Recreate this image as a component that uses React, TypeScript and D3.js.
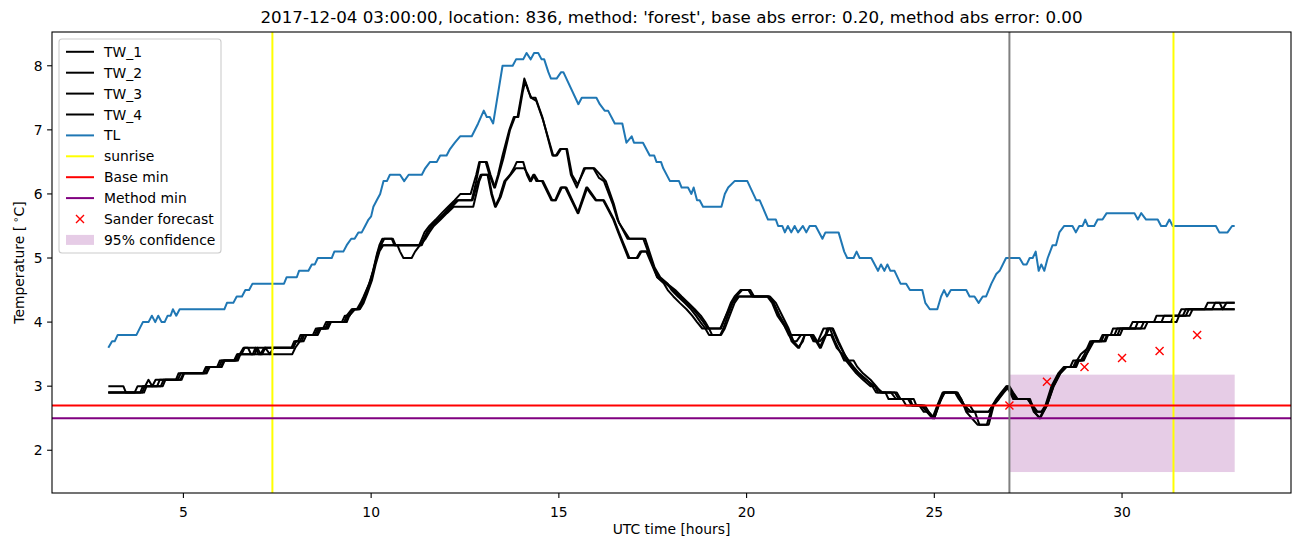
import React from 'react';
import * as d3 from 'd3';

// vertices [hour, temperature]
const TL: [number, number][] = [
  [3.0, 3.6], [3.1, 3.7], [3.17, 3.7], [3.25, 3.8], [3.75, 3.8], [3.92, 4.0], [4.07, 4.0], [4.16, 4.1], [4.25, 4.0],
  [4.33, 4.1], [4.42, 4.0], [4.5, 4.0], [4.58, 4.1], [4.66, 4.1], [4.72, 4.2], [4.81, 4.1], [4.9, 4.2],
  [6.09, 4.2], [6.16, 4.3], [6.33, 4.3], [6.42, 4.4], [6.56, 4.4], [6.65, 4.5], [6.75, 4.5], [6.84, 4.6], [7.68, 4.6],
  [7.75, 4.7], [8.02, 4.7], [8.08, 4.8], [8.33, 4.8], [8.42, 4.9], [8.5, 4.9], [8.58, 5.0], [8.95, 5.0], [9.02, 5.1],
  [9.26, 5.1], [9.35, 5.2], [9.47, 5.3], [9.56, 5.3], [9.66, 5.4], [9.75, 5.4], [9.84, 5.5], [9.93, 5.6], [10.0, 5.65],
  [10.06, 5.8], [10.15, 5.9], [10.24, 6.0], [10.33, 6.2], [10.42, 6.2], [10.5, 6.3], [10.77, 6.3], [10.88, 6.2],
  [11.0, 6.3], [11.35, 6.3], [11.44, 6.4], [11.57, 6.5], [11.75, 6.5], [11.84, 6.6], [12.01, 6.6], [12.1, 6.7],
  [12.23, 6.8], [12.37, 6.9], [12.68, 6.9], [12.85, 7.1], [13.0, 7.3], [13.08, 7.2], [13.16, 7.2], [13.25, 7.1],
  [13.5, 8.0], [13.77, 8.0], [13.86, 8.1], [14.05, 8.1], [14.14, 8.2], [14.25, 8.1], [14.34, 8.2], [14.45, 8.2],
  [14.54, 8.1], [14.61, 8.1], [14.72, 7.9], [14.79, 7.8], [14.94, 7.8], [15.06, 7.9], [15.12, 7.9], [15.52, 7.4],
  [15.61, 7.5], [16.0, 7.5], [16.09, 7.4], [16.22, 7.3], [16.31, 7.3], [16.49, 7.1], [16.69, 7.1], [16.8, 6.8],
  [16.94, 6.9], [17.0, 6.8], [17.24, 6.8], [17.42, 6.6], [17.54, 6.6], [17.6, 6.5], [17.72, 6.5], [17.78, 6.4],
  [17.96, 6.2], [18.2, 6.2], [18.27, 6.1], [18.44, 6.1], [18.53, 6.0], [18.59, 6.1], [18.68, 5.9], [18.75, 5.9],
  [18.84, 5.8], [19.33, 5.8], [19.42, 6.0], [19.51, 6.1], [19.68, 6.2], [20.02, 6.2], [20.26, 5.9], [20.35, 5.9],
  [20.57, 5.6], [20.78, 5.6], [20.84, 5.5], [20.95, 5.5], [21.02, 5.4], [21.1, 5.5], [21.19, 5.4], [21.28, 5.5],
  [21.37, 5.4], [21.5, 5.5], [21.59, 5.4], [21.68, 5.5], [21.84, 5.5], [22.02, 5.3], [22.1, 5.4], [22.45, 5.4],
  [22.6, 5.1], [22.68, 5.0], [22.85, 5.0], [22.93, 5.1], [23.01, 5.0], [23.32, 5.0], [23.5, 4.8], [23.58, 4.9],
  [23.67, 4.8], [23.75, 4.9], [23.83, 4.8], [23.94, 4.8], [24.1, 4.6], [24.25, 4.6], [24.35, 4.5], [24.68, 4.5],
  [24.76, 4.3], [24.88, 4.2], [25.08, 4.2], [25.18, 4.4], [25.26, 4.5], [25.34, 4.4], [25.44, 4.5], [25.85, 4.5],
  [25.94, 4.4], [26.07, 4.4], [26.18, 4.3], [26.29, 4.4], [26.38, 4.4], [26.52, 4.6], [26.65, 4.75], [26.74, 4.8],
  [26.91, 5.0], [27.27, 5.0], [27.37, 4.9], [27.46, 4.9], [27.54, 5.0], [27.62, 5.0], [27.7, 5.1], [27.78, 4.8],
  [27.85, 4.9], [27.93, 4.8], [28.02, 5.0], [28.15, 5.2], [28.24, 5.2], [28.33, 5.4], [28.46, 5.5], [28.68, 5.5],
  [28.77, 5.4], [28.86, 5.5], [28.95, 5.5], [29.02, 5.6], [29.09, 5.5], [29.26, 5.5], [29.35, 5.6], [29.48, 5.6],
  [29.59, 5.7], [30.33, 5.7], [30.42, 5.6], [30.51, 5.7], [30.64, 5.6], [30.95, 5.6], [31.04, 5.5], [31.17, 5.5],
  [31.26, 5.6], [31.35, 5.5], [32.5, 5.5], [32.59, 5.4], [32.81, 5.4], [32.93, 5.5], [33.0, 5.5],
];

const TW_1: [number, number][] = [
  [3.0, 3.0], [3.4, 3.0], [3.47, 2.9], [3.7, 2.9], [3.78, 3.0], [3.98, 3.0], [4.07, 3.1], [4.17, 3.0], [4.26, 3.1],
  [4.8, 3.1], [4.87, 3.2], [5.52, 3.2], [5.6, 3.3], [5.9, 3.3], [5.97, 3.4], [6.38, 3.4], [6.45, 3.5], [6.55, 3.5],
  [6.63, 3.6], [7.88, 3.6], [7.95, 3.7], [8.05, 3.7], [8.12, 3.8], [8.45, 3.8], [8.53, 3.9], [8.72, 3.9], [8.8, 4.0],
  [9.22, 4.0], [9.3, 4.1], [9.43, 4.1], [9.5, 4.2], [9.62, 4.2], [9.72, 4.3], [9.8, 4.4], [9.95, 4.6], [10.05, 4.8],
  [10.15, 5.05], [10.22, 5.2], [10.3, 5.3], [10.55, 5.3], [10.62, 5.2], [11.28, 5.2], [11.35, 5.3], [11.42, 5.4],
  [11.55, 5.5], [11.72, 5.6], [11.88, 5.7], [12.05, 5.8], [12.22, 5.9], [12.38, 6.0], [12.65, 6.0], [12.8, 6.3],
  [12.88, 6.5], [13.05, 6.5], [13.15, 6.3], [13.28, 6.1], [13.38, 6.3], [13.5, 6.6], [13.68, 7.0], [13.8, 7.2],
  [13.9, 7.2], [14.02, 7.6], [14.08, 7.8], [14.17, 7.65], [14.25, 7.5], [14.38, 7.5], [14.56, 7.2], [14.83, 6.6],
  [14.92, 6.6], [15.03, 6.7], [15.2, 6.7], [15.32, 6.3], [15.48, 6.1], [15.67, 6.4], [15.92, 6.4], [16.07, 6.25],
  [16.2, 6.2], [16.43, 5.85], [16.56, 5.6], [16.83, 5.3], [17.25, 5.3], [17.5, 4.9], [17.62, 4.7], [17.8, 4.6],
  [17.9, 4.5], [18.05, 4.4], [18.22, 4.3], [18.4, 4.2], [18.55, 4.1], [18.68, 4.0], [18.82, 3.9], [19.3, 3.9],
  [19.45, 4.1], [19.58, 4.3], [19.68, 4.4], [19.84, 4.5], [20.05, 4.5], [20.15, 4.4],
  [20.55, 4.4], [20.68, 4.3], [20.82, 4.1], [21.0, 3.95], [21.12, 3.8], [21.25, 3.7], [21.33, 3.7], [21.45, 3.8],
  [21.7, 3.8], [21.78, 3.7], [21.9, 3.7], [22.05, 3.9], [22.22, 3.9], [22.35, 3.7], [22.52, 3.5], [22.6, 3.4],
  [22.72, 3.4], [22.85, 3.3], [23.0, 3.2], [23.2, 3.1], [23.35, 3.0], [23.45, 2.9], [23.95, 2.9], [24.05, 2.8],
  [24.35, 2.8], [24.42, 2.7], [24.7, 2.7], [24.8, 2.6], [24.95, 2.5], [25.08, 2.7], [25.22, 2.9], [25.58, 2.9],
  [25.7, 2.8], [25.8, 2.7], [25.95, 2.7], [26.05, 2.6], [26.45, 2.6], [26.55, 2.7], [26.65, 2.8], [26.78, 2.9],
  [26.92, 3.0], [27.02, 2.9], [27.1, 2.8], [27.5, 2.8], [27.62, 2.7], [27.75, 2.6], [27.85, 2.6], [27.96, 2.7],
  [28.12, 3.0], [28.3, 3.2], [28.45, 3.3], [28.62, 3.3], [28.7, 3.4], [28.8, 3.4], [28.9, 3.5], [29.1, 3.6],
  [29.2, 3.7], [29.4, 3.7], [29.48, 3.8], [29.7, 3.8], [29.76, 3.9], [30.2, 3.9], [30.28, 4.0], [30.85, 4.0],
  [30.92, 4.1], [31.5, 4.1], [31.58, 4.2], [32.2, 4.2], [32.28, 4.3], [33.0, 4.3],
];

const TW_2: [number, number][] = [
  [3.0, 2.9], [3.85, 2.9], [3.92, 3.0], [4.3, 3.0], [4.37, 3.1], [4.92, 3.1], [5.0, 3.2], [5.62, 3.2], [5.7, 3.3],
  [6.0, 3.3], [6.07, 3.4], [6.42, 3.4], [6.5, 3.5], [6.6, 3.6], [6.72, 3.6], [6.8, 3.5], [6.9, 3.5], [6.97, 3.6],
  [7.05, 3.5], [7.15, 3.6], [7.92, 3.6], [8.0, 3.7], [8.1, 3.7], [8.18, 3.8], [8.5, 3.8], [8.58, 3.9], [8.78, 3.9],
  [8.85, 4.0], [9.28, 4.0], [9.35, 4.1], [9.48, 4.2], [9.65, 4.2], [9.75, 4.3], [9.85, 4.45], [9.98, 4.65],
  [10.08, 4.85], [10.18, 5.1], [10.26, 5.2], [10.35, 5.3], [10.58, 5.3], [10.65, 5.2], [11.32, 5.2], [11.4, 5.3],
  [11.48, 5.4], [11.6, 5.5], [11.78, 5.6], [11.95, 5.7], [12.1, 5.8], [12.28, 5.9], [12.68, 5.9], [12.8, 6.2],
  [12.9, 6.5], [13.08, 6.5], [13.18, 6.3], [13.3, 6.1], [13.4, 6.3], [13.52, 6.55], [13.7, 7.0], [13.83, 7.2],
  [13.92, 7.2], [14.04, 7.6], [14.1, 7.75], [14.19, 7.6], [14.27, 7.5], [14.4, 7.45], [14.58, 7.15], [14.85, 6.6],
  [14.95, 6.6], [15.06, 6.7], [15.22, 6.7], [15.35, 6.3], [15.5, 6.15], [15.7, 6.4], [15.95, 6.4], [16.1, 6.3],
  [16.25, 6.2], [16.46, 5.85], [16.6, 5.55], [16.88, 5.3], [17.3, 5.3], [17.55, 4.85], [17.7, 4.7], [17.9, 4.6],
  [18.0, 4.5], [18.17, 4.4], [18.35, 4.3], [18.52, 4.2], [18.65, 4.1], [18.77, 4.0], [18.9, 3.9], [19.0, 3.8],
  [19.3, 3.8], [19.38, 3.9], [19.5, 4.1], [19.63, 4.3], [19.73, 4.4], [19.88, 4.5], [20.1, 4.5], [20.2, 4.4],
  [20.6, 4.4], [20.72, 4.3], [20.86, 4.1], [21.05, 3.9], [21.18, 3.8], [21.7, 3.8], [21.82, 3.7], [21.95, 3.7],
  [22.1, 3.8], [22.25, 3.8], [22.4, 3.6], [22.55, 3.5], [22.65, 3.4], [22.78, 3.3], [22.92, 3.2], [23.1, 3.1],
  [23.3, 3.0], [23.42, 3.0], [23.5, 2.9], [24.0, 2.9], [24.1, 2.8], [24.45, 2.8], [24.52, 2.7], [24.75, 2.7],
  [24.85, 2.6], [24.98, 2.5], [25.1, 2.7], [25.25, 2.9], [25.6, 2.9], [25.72, 2.8], [25.85, 2.6], [26.0, 2.5],
  [26.15, 2.4], [26.4, 2.4], [26.55, 2.7], [26.68, 2.8], [26.8, 2.9], [26.95, 3.0], [27.05, 2.9], [27.15, 2.8],
  [27.55, 2.8], [27.67, 2.6], [27.8, 2.5], [27.98, 2.7], [28.15, 3.0], [28.32, 3.2], [28.48, 3.3], [28.75, 3.3],
  [28.82, 3.4], [28.9, 3.4], [29.0, 3.5], [29.15, 3.7], [29.45, 3.7], [29.52, 3.8], [29.8, 3.8], [29.87, 3.9],
  [30.35, 3.9], [30.42, 4.0], [31.05, 4.0], [31.12, 4.1], [31.62, 4.1], [31.7, 4.2], [33.0, 4.2],
];

const TW_3: [number, number][] = [
  [3.0, 2.9], [3.9, 2.9], [3.97, 3.0], [4.4, 3.0], [4.47, 3.1], [4.85, 3.1], [4.93, 3.2], [5.55, 3.2], [5.62, 3.3],
  [5.95, 3.3], [6.02, 3.4], [6.35, 3.4], [6.43, 3.5], [6.85, 3.5], [6.92, 3.6], [7.0, 3.5], [7.1, 3.5], [7.18, 3.6],
  [7.3, 3.5], [7.4, 3.6], [7.92, 3.6], [8.0, 3.7], [8.15, 3.7], [8.22, 3.8], [8.55, 3.8], [8.62, 3.9], [8.82, 3.9],
  [8.9, 4.0], [9.32, 4.0], [9.4, 4.1], [9.55, 4.2], [9.68, 4.2], [9.78, 4.3], [9.88, 4.45], [10.0, 4.65], [10.1, 4.9],
  [10.2, 5.1], [10.3, 5.2], [11.35, 5.2], [11.42, 5.3], [11.5, 5.4], [11.62, 5.5], [11.8, 5.6], [11.98, 5.7],
  [12.15, 5.8], [12.32, 5.9], [12.7, 5.9], [12.85, 6.2], [12.92, 6.3], [13.1, 6.3], [13.2, 6.0], [13.3, 5.8],
  [13.42, 5.95], [13.55, 6.2], [13.7, 6.3], [13.8, 6.4], [13.88, 6.5], [14.05, 6.5], [14.15, 6.3], [14.23, 6.2],
  [14.32, 6.3], [14.4, 6.2], [14.55, 6.2], [14.8, 5.9], [14.9, 5.9], [15.05, 6.1], [15.17, 6.1], [15.5, 5.7],
  [15.73, 6.1], [15.85, 6.0], [15.98, 5.9], [16.18, 5.9], [16.45, 5.6], [16.58, 5.4], [16.85, 5.0], [17.07, 5.0],
  [17.17, 5.1], [17.33, 5.1], [17.62, 4.7], [17.85, 4.6], [18.05, 4.5], [18.22, 4.4], [18.4, 4.3], [18.58, 4.2],
  [18.72, 4.1], [18.85, 4.0], [18.96, 3.9], [19.32, 3.9], [19.45, 4.1], [19.62, 4.3],
  [19.76, 4.4], [20.58, 4.4], [20.72, 4.3], [20.88, 4.1], [21.08, 3.9],
  [21.2, 3.7], [21.37, 3.6], [21.5, 3.7], [21.55, 3.8], [21.75, 3.8], [21.85, 3.7], [21.95, 3.6], [22.1, 3.8],
  [22.15, 3.9], [22.28, 3.9], [22.42, 3.7], [22.6, 3.5], [22.72, 3.4], [22.85, 3.4], [22.95, 3.3], [23.1, 3.2],
  [23.3, 3.1], [23.45, 3.0], [23.58, 2.9], [23.7, 2.9], [23.78, 2.8], [24.15, 2.8], [24.25, 2.7], [24.6, 2.7],
  [24.72, 2.6], [24.85, 2.6], [25.0, 2.5], [25.12, 2.7], [25.25, 2.9], [25.55, 2.9], [25.65, 2.8], [25.78, 2.7],
  [25.9, 2.6], [26.45, 2.6], [26.56, 2.7], [26.7, 2.8], [26.82, 2.9], [26.97, 3.0], [27.08, 2.9], [27.2, 2.8],
  [27.48, 2.8], [27.6, 2.7], [27.72, 2.6], [27.9, 2.6], [28.0, 2.7], [28.17, 3.0], [28.35, 3.2], [28.5, 3.3],
  [28.7, 3.3], [28.78, 3.4], [28.95, 3.4], [29.05, 3.5], [29.22, 3.7], [29.52, 3.7], [29.6, 3.8], [29.88, 3.8],
  [29.95, 3.9], [30.5, 3.9], [30.58, 4.0], [31.3, 4.0], [31.38, 4.1], [31.7, 4.1], [31.78, 4.2], [32.4, 4.2],
  [32.48, 4.3], [32.6, 4.3], [32.68, 4.2], [32.78, 4.3], [33.0, 4.3],
];

const TW_4: [number, number][] = [
  [3.0, 2.9], [3.95, 2.9], [4.02, 3.0], [4.45, 3.0], [4.52, 3.1], [4.95, 3.1], [5.02, 3.2], [5.6, 3.2], [5.67, 3.3],
  [6.02, 3.3], [6.1, 3.4], [6.45, 3.4], [6.52, 3.5], [7.9, 3.5], [7.98, 3.6], [8.1, 3.7], [8.2, 3.7], [8.28, 3.8],
  [8.58, 3.8], [8.66, 3.9], [8.85, 3.9], [8.93, 4.0], [9.35, 4.0], [9.42, 4.1], [9.57, 4.2], [9.7, 4.2], [9.8, 4.3],
  [9.9, 4.45], [10.02, 4.65], [10.12, 4.9], [10.22, 5.1], [10.32, 5.2], [10.7, 5.2], [10.77, 5.1], [10.86, 5.0],
  [11.08, 5.0], [11.17, 5.1], [11.3, 5.2], [11.45, 5.3], [11.55, 5.4], [11.67, 5.5], [11.85, 5.6], [12.02, 5.7],
  [12.2, 5.8], [12.72, 5.8], [12.88, 6.2], [12.95, 6.3], [13.12, 6.3], [13.22, 6.0], [13.32, 5.8], [13.45, 5.95],
  [13.58, 6.2], [13.72, 6.3], [13.85, 6.4], [14.08, 6.4], [14.18, 6.3], [14.26, 6.2], [14.35, 6.3], [14.45, 6.2],
  [14.58, 6.2], [14.83, 5.9], [14.92, 5.9], [15.08, 6.1], [15.2, 6.1], [15.52, 5.7], [15.76, 6.1], [15.88, 6.0],
  [16.0, 5.9], [16.2, 5.9], [16.47, 5.6], [16.6, 5.4], [16.88, 5.0], [17.1, 5.0], [17.2, 5.1], [17.35, 5.1],
  [17.65, 4.7], [17.88, 4.6], [18.1, 4.5], [18.27, 4.4], [18.45, 4.3], [18.62, 4.2], [18.78, 4.1], [18.9, 4.0],
  [19.0, 3.9], [19.08, 3.8], [19.32, 3.8], [19.42, 3.9], [19.55, 4.1], [19.68, 4.3], [19.8, 4.4],
  [20.62, 4.4], [20.78, 4.3], [20.95, 4.1], [21.12, 3.9], [21.25, 3.7], [21.4, 3.6],
  [21.55, 3.8], [21.78, 3.8], [21.88, 3.7], [21.98, 3.6], [22.12, 3.8], [22.2, 3.9], [22.3, 3.9], [22.45, 3.7],
  [22.65, 3.45], [22.8, 3.3], [22.97, 3.2], [23.17, 3.1], [23.42, 3.0], [23.62, 2.9], [23.85, 2.9], [23.98, 2.8],
  [24.3, 2.8], [24.4, 2.7], [24.65, 2.7], [24.8, 2.6], [25.0, 2.5], [25.14, 2.75], [25.28, 2.9], [25.62, 2.9],
  [25.8, 2.7], [25.98, 2.6], [26.08, 2.6], [26.2, 2.4], [26.45, 2.4], [26.58, 2.7], [26.72, 2.8], [26.85, 2.9],
  [27.0, 3.0], [27.1, 2.9], [27.22, 2.8], [27.52, 2.8], [27.65, 2.6], [27.82, 2.5], [28.0, 2.7], [28.18, 3.0],
  [28.36, 3.2], [28.52, 3.3], [28.78, 3.3], [28.85, 3.4], [28.98, 3.4], [29.06, 3.5], [29.25, 3.7], [29.56, 3.7],
  [29.63, 3.8], [29.95, 3.8], [30.02, 3.9], [30.6, 3.9], [30.68, 4.0], [31.45, 4.0], [31.52, 4.1], [31.8, 4.1],
  [31.88, 4.2], [33.0, 4.2],
];

const SANDER_HOURS = [27, 28, 29, 30, 31, 32];
const SANDER_VALUES = [2.7, 3.07, 3.3, 3.44, 3.55, 3.8];
const SUNRISE_HOURS = [7.37, 31.37];
const FORECAST_HOUR = 27;
const BASE_MIN = 2.7;
const METHOD_MIN = 2.5;
const CONF_HOURS = [27, 33];
const CONF_RANGE = [1.66, 3.18];
const X_TICKS = [5, 10, 15, 20, 25, 30];
const Y_TICKS = [2, 3, 4, 5, 6, 7, 8];
const TITLE = "2017-12-04 03:00:00, location: 836, method: 'forest', base abs error: 0.20, method abs error: 0.00";

const W = 1302;
const H = 547;
const M = { left: 52, right: 1291, top: 32, bottom: 493 };
const FONT = 'DejaVu Sans, sans-serif';
const LW = 2;
const FS = 13.9;

const LEGEND = [
  { label: 'TW_1', kind: 'line', color: '#000000' },
  { label: 'TW_2', kind: 'line', color: '#000000' },
  { label: 'TW_3', kind: 'line', color: '#000000' },
  { label: 'TW_4', kind: 'line', color: '#000000' },
  { label: 'TL', kind: 'line', color: '#1f77b4' },
  { label: 'sunrise', kind: 'line', color: '#ffff00' },
  { label: 'Base min', kind: 'line', color: '#ff0000' },
  { label: 'Method min', kind: 'line', color: '#800080' },
  { label: 'Sander forecast', kind: 'marker', color: '#ff0000' },
  { label: '95% confidence', kind: 'patch', color: '#e6cce6' },
];

export default function App() {
  const x = d3.scaleLinear().domain([1.5, 34.5]).range([M.left, M.right]);
  const y = d3.scaleLinear().domain([1.333, 8.527]).range([M.bottom, M.top]);
  const line = d3.line<[number, number]>().x(d => x(d[0])).y(d => y(d[1]));

  const tw = [TW_1, TW_2, TW_3, TW_4];
  const cx = (M.left + M.right) / 2;
  const cy = (M.top + M.bottom) / 2;

  return (
    <svg width={W} height={H} style={{ position: 'absolute', left: 0, top: 0, background: '#fff' }} fontFamily={FONT}>
      <rect x={0} y={0} width={W} height={H} fill="#fff" />
      <defs>
        <clipPath id="plot">
          <rect x={M.left} y={M.top} width={M.right - M.left} height={M.bottom - M.top} />
        </clipPath>
      </defs>

      <g clipPath="url(#plot)">
        {/* 95% confidence */}
        <rect
          x={x(CONF_HOURS[0])}
          y={y(CONF_RANGE[1])}
          width={x(CONF_HOURS[1]) - x(CONF_HOURS[0])}
          height={y(CONF_RANGE[0]) - y(CONF_RANGE[1])}
          fill="#800080"
          fillOpacity={0.2}
        />
        {tw.map((s, i) => (
          <path key={i} d={line(s) || ''} fill="none" stroke="#000" strokeWidth={LW} strokeLinejoin="round" />
        ))}
        <path d={line(TL) || ''} fill="none" stroke="#1f77b4" strokeWidth={LW} strokeLinejoin="round" />
        {SUNRISE_HOURS.map(h => (
          <line key={h} x1={x(h)} x2={x(h)} y1={M.top} y2={M.bottom} stroke="#ffff00" strokeWidth={LW} />
        ))}
        <line x1={M.left} x2={M.right} y1={y(BASE_MIN)} y2={y(BASE_MIN)} stroke="#ff0000" strokeWidth={LW} />
        <line x1={M.left} x2={M.right} y1={y(METHOD_MIN)} y2={y(METHOD_MIN)} stroke="#800080" strokeWidth={LW} />
        <line x1={x(FORECAST_HOUR)} x2={x(FORECAST_HOUR)} y1={M.top} y2={M.bottom} stroke="#808080" strokeWidth={LW} />
        {SANDER_HOURS.map((h, i) => {
          const px = x(h);
          const py = y(SANDER_VALUES[i]);
          return (
            <path key={h} d={`M${px - 4},${py - 4}L${px + 4},${py + 4}M${px - 4},${py + 4}L${px + 4},${py - 4}`}
              stroke="#ff0000" strokeWidth={1.4} />
          );
        })}
      </g>

      {/* axes frame */}
      <rect x={M.left} y={M.top} width={M.right - M.left} height={M.bottom - M.top} fill="none" stroke="#000" strokeWidth={1.1} />

      {X_TICKS.map(t => (
        <g key={t} transform={`translate(${x(t)},${M.bottom})`}>
          <line y2={4.9} stroke="#000" strokeWidth={1.1} />
          <text y={23.5} textAnchor="middle" fontSize={FS}>{t}</text>
        </g>
      ))}
      {Y_TICKS.map(t => (
        <g key={t} transform={`translate(${M.left},${y(t)})`}>
          <line x2={-4.9} stroke="#000" strokeWidth={1.1} />
          <text x={-9.5} dy="0.36em" textAnchor="end" fontSize={FS}>{t}</text>
        </g>
      ))}

      <text x={cx} y={534} textAnchor="middle" fontSize={FS}>UTC time [hours]</text>
      <text transform={`translate(23.5,${cy}) rotate(-90)`} textAnchor="middle" fontSize={FS}>
        Temperature [<tspan fontSize={10} dy={-5}> ∘</tspan><tspan dy={5}>C]</tspan>
      </text>
      <text x={cx} y={23} textAnchor="middle" fontSize={16.7}>{TITLE}</text>

      {/* legend */}
      <g>
        <rect x={59} y={39} width={162} height={214} rx={3} fill="#fff" fillOpacity={0.8} stroke="#cccccc" strokeWidth={1.1} />
        {LEGEND.map((d, i) => {
          const ly = 51.8 + i * 20.9;
          return (
            <g key={d.label}>
              {d.kind === 'line' && <line x1={66} x2={94} y1={ly} y2={ly} stroke={d.color} strokeWidth={LW} />}
              {d.kind === 'marker' && (
                <path d={`M76,${ly - 4}L84,${ly + 4}M76,${ly + 4}L84,${ly - 4}`} stroke={d.color} strokeWidth={1.4} />
              )}
              {d.kind === 'patch' && <rect x={66} y={ly - 5} width={28} height={10} fill={d.color} />}
              <text x={104} y={ly} dy="0.36em" fontSize={FS}>{d.label}</text>
            </g>
          );
        })}
      </g>
    </svg>
  );
}
